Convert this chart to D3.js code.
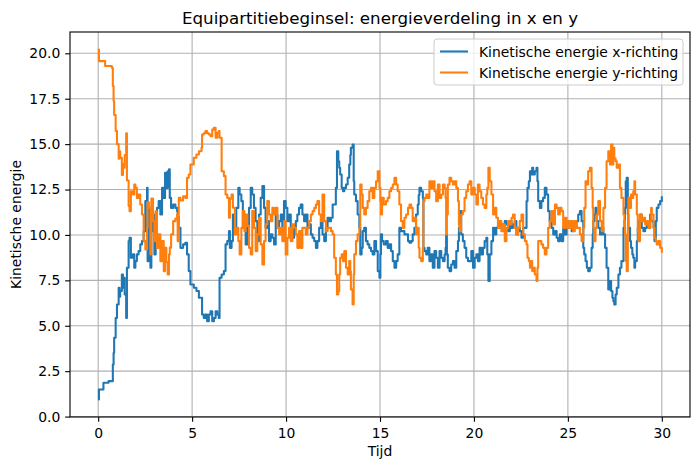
<!DOCTYPE html>
<html>
<head>
<meta charset="utf-8">
<script src="https://cdn.jsdelivr.net/npm/d3@7/dist/d3.min.js"></script>
<style>
  html, body { margin: 0; padding: 0; background: #ffffff; }
  svg { display: block; font-family: "DejaVu Sans", sans-serif; }
</style>
</head>
<body>
<div id="chart"></div>
<script>
// ---------------- data ----------------
const title = "Equipartitiebeginsel: energieverdeling in x en y";
const xLabel = "Tijd";
const yLabel = "Kinetische energie";
const seriesNames = ["Kinetische energie x-richting", "Kinetische energie y-richting"];
const xTicks = [0, 5, 10, 15, 20, 25, 30];
const yTicks = [0, 2.5, 5, 7.5, 10, 12.5, 15, 17.5, 20];

const time = [
  0.00,0.04,0.28,0.37,0.55,0.73,0.78,0.82,0.85,0.93,1.00,1.09,1.14,1.17,1.26,1.32,1.35,1.41,1.49,1.53,1.62,1.67,1.74,1.85,1.92,1.98,2.06,2.15,2.24,2.33,2.42,2.51,2.60,2.63,2.70,2.78,2.83,2.92,2.99,3.06,3.13,3.22,3.31,3.40,3.49,3.56,3.63,3.70,3.77,3.81,3.88,3.99,4.11,4.20,4.23,4.29,4.38,4.52,4.64,4.73,4.82,4.91,5.09,5.23,5.36,
  5.50,5.53,5.62,5.71,5.80,5.89,5.98,6.07,6.16,6.25,6.34,6.42,6.46,6.57,6.69,6.78,6.87,6.96,7.01,7.10,7.17,7.28,7.35,7.46,7.53,7.62,7.70,7.78,7.85,7.94,8.03,8.12,8.20,8.29,8.38,8.47,8.56,8.65,8.74,8.83,8.91,9.00,9.09,9.18,9.27,9.36,9.45,9.54,9.63,9.72,9.80,9.89,9.98,10.07,10.16,10.25,10.34,10.43,10.52,10.60,10.69,10.78,10.87,10.96,
  11.05,11.14,11.23,11.32,11.41,11.50,11.59,11.67,11.76,11.85,11.94,12.03,12.12,12.21,12.30,12.39,12.48,12.56,12.65,12.71,12.78,12.83,12.88,12.96,13.03,13.10,13.19,13.28,13.36,13.42,13.45,13.54,13.60,13.63,13.72,13.81,13.90,13.95,14.02,14.08,14.16,14.25,14.34,14.43,14.52,14.61,14.70,14.79,14.88,14.97,15.02,15.05,15.11,15.20,15.32,15.41,15.50,15.59,15.68,15.77,15.86,15.94,16.03,16.12,16.21,16.30,16.39,16.49,16.57,
  16.66,16.74,16.83,16.92,17.01,17.06,17.10,17.19,17.28,17.31,17.37,17.46,17.54,17.63,17.72,17.81,17.90,17.99,18.08,18.17,18.26,18.35,18.44,18.49,18.52,18.56,18.61,18.70,18.79,18.88,18.97,19.06,19.15,19.20,19.24,19.32,19.41,19.50,19.59,19.68,19.77,19.86,19.95,20.04,20.13,20.21,20.30,20.39,20.48,20.57,20.66,20.71,20.77,20.84,20.93,21.02,21.11,21.19,21.28,21.37,21.46,21.55,21.64,21.73,21.82,21.91,22.00,22.08,22.17,
  22.26,22.35,22.44,22.53,22.62,22.71,22.80,22.85,22.92,22.98,23.06,23.10,23.15,23.24,23.33,23.38,23.42,23.51,23.59,23.68,23.77,23.86,23.95,24.03,24.13,24.22,24.31,24.40,24.48,24.57,24.66,24.75,24.84,24.93,25.02,25.11,25.20,25.28,25.37,25.46,25.55,25.64,25.73,25.82,25.87,25.94,26.01,26.08,26.17,26.26,26.32,26.35,26.40,26.47,26.53,26.62,26.71,26.80,26.89,26.98,27.06,27.15,27.24,27.30,27.37,27.42,27.47,27.54,27.60,27.69,27.77,27.85,
  27.96,28.01,28.04,28.08,28.13,28.19,28.22,28.31,28.36,28.43,28.48,28.54,28.58,28.67,28.72,28.75,28.84,28.93,29.02,29.11,29.20,29.29,29.38,29.43,29.47,29.56,29.61,29.68,29.73,29.82,29.91,30.00
];

const kinX = [
  0.94,1.49,1.86,1.86,1.95,1.95,2.87,3.5,4.34,5.43,6.17,7.09,6.6,6.91,7.82,7.09,7.64,6.72,5.43,8.19,9.66,9.85,8.74,8.93,8.19,8.56,8.93,9.11,9.48,9.66,10.2,11.86,12.59,8.56,11.49,8.19,10.2,11.13,8.93,10.39,11.49,11.86,11.13,12.59,12.04,13.42,12.59,13.51,13.61,12.04,11.49,11.68,11.49,11.31,11.0,10.39,9.29,9.48,9.57,8.93,8.01,7.27,7.09,6.91,6.54,
  6.54,5.62,5.43,5.62,5.25,5.62,5.80,5.25,5.43,5.80,5.62,5.43,7.64,7.82,8.01,9.48,9.66,10.21,9.29,9.66,11.13,10.39,11.49,12.59,12.23,11.86,10.39,10.76,9.48,10.39,11.49,12.59,12.23,11.49,10.76,9.66,11.13,12.04,12.69,11.49,10.39,10.76,9.66,10.03,9.85,9.48,11.13,10.39,10.76,11.13,10.03,11.86,11.49,10.76,11.13,10.39,9.85,10.39,10.76,11.13,11.49,11.68,11.13,10.76,
  11.13,10.39,10.58,10.03,9.85,9.66,9.29,9.66,10.39,10.76,10.03,9.66,10.39,10.95,10.76,10.95,11.68,11.68,12.59,14.61,14.06,13.70,13.33,12.59,12.41,12.59,12.78,13.15,13.88,14.4,14.80,14.98,12.96,12.23,11.86,11.13,10.39,8.93,9.29,10.21,10.39,9.66,9.48,9.29,9.11,8.93,9.66,9.11,8.01,7.64,8.93,10.03,9.66,9.48,9.66,9.29,9.48,9.11,8.56,8.19,8.56,8.93,10.39,10.21,10.21,10.03,10.03,9.66,9.57,
  9.66,10.03,10.39,11.13,11.68,12.2,12.59,12.41,12.04,9.29,9.11,8.93,9.29,8.56,8.93,8.19,9.11,8.74,8.19,9.11,8.74,8.56,8.93,9.29,10.03,8.93,8.19,8.01,8.37,8.56,8.19,9.11,9.66,10.39,11.31,10.03,9.66,9.29,8.74,8.56,8.56,9.11,8.19,8.74,8.93,8.56,9.29,8.93,9.29,9.66,9.85,8.93,7.46,8.93,9.66,10.39,10.03,10.39,10.76,10.39,10.58,10.39,10.76,10.58,10.21,10.76,10.39,10.58,10.76,
  10.03,10.39,10.21,9.85,10.39,10.39,11.86,12.59,12.96,13.51,13.33,13.70,13.33,13.51,13.70,12.96,11.86,11.49,11.86,12.04,12.59,12.23,11.31,10.76,10.39,10.03,10.21,9.85,9.66,10.03,9.66,10.39,10.03,10.39,10.76,10.39,10.21,10.39,10.39,10.76,11.13,11.31,10.76,9.29,8.93,8.56,8.19,8.01,8.19,9.29,10.03,10.76,11.13,11.49,10.76,10.39,10.03,10.39,10.03,9.29,8.19,7.0,7.46,6.91,6.54,6.35,6.17,6.72,7.09,7.82,8.19,8.56,
  10.39,10.8,11.49,12.96,13.15,11.13,10.39,9.66,9.29,8.93,8.74,8.19,8.56,9.66,10.39,10.76,11.13,10.39,10.21,10.39,10.58,10.39,11.13,10.8,10.76,10.39,9.66,10.76,11.49,11.68,11.86,12.13
];

const kinY = [
  20.21,19.57,19.57,19.30,19.30,19.20,18.2,17.37,16.6,15.72,15.0,14.2,14.6,14.25,13.3,13.9,13.7,14.4,15.6,13.0,11.6,11.31,12.41,12.23,12.78,12.59,12.04,12.23,11.68,11.13,9.66,9.2,10.39,11.8,11.49,8.93,12.0,10.76,9.66,11.3,9.29,10.03,8.56,9.66,8.01,9.29,8.5,7.82,8.93,9.3,10.03,10.76,10.9,11.13,9.66,12.04,11.9,12.13,12.04,13.15,13.33,13.88,14.25,14.43,14.61,
  14.80,15.53,15.6,15.72,15.6,15.53,15.44,15.8,15.9,15.35,15.62,15.72,15.35,13.51,13.24,12.23,12.04,10.95,12.0,12.23,11.5,10.03,10.39,9.66,8.93,10.39,11.31,10.2,11.13,10.5,9.29,8.93,11.31,10.39,9.11,10.03,10.95,9.48,8.37,9.66,10.58,11.86,11.13,10.76,11.49,11.13,11.49,10.39,10.03,10.39,9.66,10.76,8.93,9.85,10.39,9.66,10.58,10.4,10.03,9.29,10.21,9.29,10.39,10.39,
  10.03,10.39,10.76,11.13,11.31,11.49,11.68,11.86,11.13,10.76,12.23,10.76,10.21,10.39,10.39,10.21,10.03,8.74,7.82,6.72,6.9,7.82,8.74,8.93,8.56,9.11,8.19,7.82,8.56,8.0,7.0,6.17,7.82,8.93,9.66,10.03,10.39,12.78,12.23,11.49,11.13,11.49,11.86,12.41,12.59,12.04,12.59,12.96,13.51,12.59,11.86,11.13,12.04,11.68,11.86,12.04,12.41,12.59,12.78,13.15,12.78,12.41,11.68,10.76,10.39,10.95,11.13,11.49,11.68,
  11.49,10.76,10.95,10.03,10.39,9.29,8.74,8.56,9.29,11.86,12.04,12.23,12.04,12.96,12.59,12.96,12.41,11.86,12.78,12.04,12.23,12.78,12.59,12.04,10.03,11.13,12.78,13.15,12.96,12.78,12.96,12.59,11.86,10.58,10.21,11.13,11.31,12.04,12.41,12.78,12.96,12.23,12.59,12.23,11.68,12.78,12.41,12.04,11.68,11.49,12.23,12.59,13.70,12.96,12.23,11.13,11.49,10.95,10.39,10.76,10.21,10.58,9.66,10.39,10.76,10.58,10.95,11.13,10.39,
  10.03,10.39,10.76,11.13,10.03,9.66,9.48,8.74,8.56,8.19,8.56,8.01,8.19,7.82,7.46,8.19,9.66,9.66,9.48,9.29,8.93,9.29,10.39,10.76,11.31,10.58,11.68,11.49,11.13,11.49,11.31,10.39,10.95,10.39,10.76,10.39,10.76,10.21,10.76,10.39,10.39,10.03,9.66,10.39,11.49,12.96,12.78,13.51,13.70,12.59,11.49,10.39,9.66,10.39,11.13,11.86,10.76,10.21,11.49,12.59,14.06,14.61,13.88,14.98,13.88,14.80,14.2,14.06,13.70,13.88,12.59,12.04,
  11.13,10.76,10.03,8.56,8.01,10.39,12.04,11.49,12.23,12.04,12.41,12.96,12.23,11.13,10.21,9.66,11.13,10.76,10.95,10.58,10.76,10.39,10.76,11.49,11.13,10.39,9.85,9.66,9.48,9.66,9.29,9.02
];

const colors = ["#1f77b4", "#ff7f0e"];

// ---------------- layout ----------------
const W = 700, H = 470;
const plot = { left: 70, right: 690, top: 32, bottom: 417 };
const fontTick = 13.9, fontTitle = 16.7;

const n = Math.min(time.length, kinX.length, kinY.length);
const seriesX = d3.range(n).map(i => ({ t: time[i], v: kinX[i] }));
const seriesY = d3.range(n).map(i => ({ t: time[i], v: kinY[i] }));
const allSeries = [seriesX, seriesY];

const tExt = d3.extent(time);
const tPad = (tExt[1] - tExt[0]) * 0.05;
const vExt = d3.extent(kinX.concat(kinY));
const vPad = (vExt[1] - vExt[0]) * 0.05;

const x = d3.scaleLinear().domain([tExt[0] - tPad, tExt[1] + tPad]).range([plot.left, plot.right]);
const y = d3.scaleLinear().domain([vExt[0] - vPad, vExt[1] + vPad]).range([plot.bottom, plot.top]);

const svg = d3.select("#chart").append("svg")
  .attr("width", W).attr("height", H)
  .attr("viewBox", `0 0 ${W} ${H}`);

svg.append("rect").attr("width", W).attr("height", H).attr("fill", "#ffffff");

// grid
const grid = svg.append("g").attr("class", "grid");
grid.selectAll("line.gx").data(xTicks).join("line")
  .attr("class", "gx")
  .attr("x1", d => x(d)).attr("x2", d => x(d))
  .attr("y1", plot.top).attr("y2", plot.bottom)
  .attr("stroke", "#b0b0b0").attr("stroke-width", 1.1);
grid.selectAll("line.gy").data(yTicks).join("line")
  .attr("class", "gy")
  .attr("x1", plot.left).attr("x2", plot.right)
  .attr("y1", d => y(d)).attr("y2", d => y(d))
  .attr("stroke", "#b0b0b0").attr("stroke-width", 1.1);

// lines
const line = d3.line()
  .x(d => x(d.t))
  .y(d => y(d.v))
  .curve(d3.curveStepAfter);

svg.append("g").selectAll("path.series").data(allSeries).join("path")
  .attr("class", "series")
  .attr("d", line)
  .attr("fill", "none")
  .attr("stroke", (d, i) => colors[i])
  .attr("stroke-width", 2.08)
  .attr("stroke-linejoin", "round");

// axes
const xAxis = d3.axisBottom(x).tickValues(xTicks).tickSize(4.86).tickPadding(6)
  .tickFormat(d3.format("d"));
const yAxis = d3.axisLeft(y).tickValues(yTicks).tickSize(4.86).tickPadding(4.86)
  .tickFormat(d3.format(".1f"));

const gx = svg.append("g").attr("transform", `translate(0,${plot.bottom})`).call(xAxis);
const gy = svg.append("g").attr("transform", `translate(${plot.left},0)`).call(yAxis);
[gx, gy].forEach(g => {
  g.select(".domain").remove();
  g.selectAll(".tick line").attr("stroke", "#000").attr("stroke-width", 1.1);
  g.selectAll(".tick text")
    .attr("fill", "#000")
    .style("font-family", "'DejaVu Sans', sans-serif")
    .style("font-size", fontTick + "px");
});

// spines
svg.append("rect")
  .attr("x", plot.left).attr("y", plot.top)
  .attr("width", plot.right - plot.left).attr("height", plot.bottom - plot.top)
  .attr("fill", "none").attr("stroke", "#000").attr("stroke-width", 1.1);

// labels
const cx = (plot.left + plot.right) / 2;
svg.append("text")
  .attr("x", cx).attr("y", 23.5)
  .attr("text-anchor", "middle")
  .style("font-size", fontTitle + "px")
  .attr("fill", "#000")
  .text(title);

svg.append("text")
  .attr("x", cx).attr("y", 455.5)
  .attr("text-anchor", "middle")
  .style("font-size", fontTick + "px")
  .attr("fill", "#000")
  .text(xLabel);

svg.append("text")
  .attr("transform", `translate(20.5,${(plot.top + plot.bottom) / 2}) rotate(-90)`)
  .attr("text-anchor", "middle")
  .style("font-size", fontTick + "px")
  .attr("fill", "#000")
  .text(yLabel);

// legend
const legend = svg.append("g").attr("class", "legend");
legend.append("rect")
  .attr("x", 434).attr("y", 39)
  .attr("width", 249).attr("height", 46)
  .attr("rx", 3).attr("ry", 3)
  .attr("fill", "#ffffff").attr("fill-opacity", 0.8)
  .attr("stroke", "#cccccc").attr("stroke-width", 1);

const rows = legend.selectAll("g.row").data(seriesNames).join("g")
  .attr("class", "row")
  .attr("transform", (d, i) => `translate(0,${51.5 + i * 21})`);
rows.append("line")
  .attr("x1", 440).attr("x2", 468)
  .attr("y1", 0).attr("y2", 0)
  .attr("stroke", (d, i) => colors[i])
  .attr("stroke-width", 2.08);
rows.append("text")
  .attr("x", 479).attr("y", 0).attr("dy", "0.36em")
  .style("font-size", fontTick + "px")
  .attr("fill", "#000")
  .text(d => d);
</script>
</body>
</html>
